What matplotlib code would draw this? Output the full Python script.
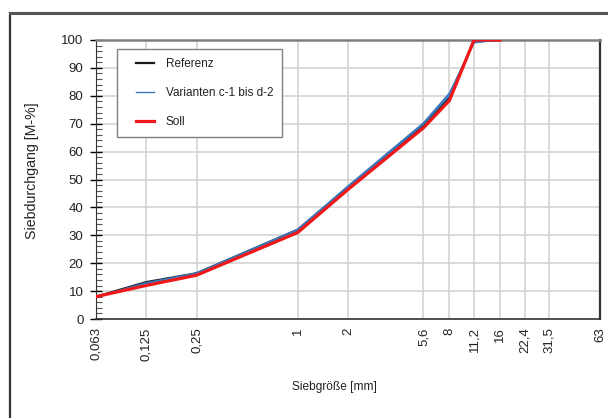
import matplotlib.pyplot as plt
import matplotlib.ticker as mticker
from matplotlib.lines import Line2D
from matplotlib.legend_handler import HandlerLine2D

plt.rcParams['font.family'] = ['Liberation Sans', 'DejaVu Sans']

siebe = [0.063, 0.125, 0.25, 1, 2, 5.6, 8, 11.2, 16, 22.4, 31.5, 63]
sieb_labels = ['0,063', '0,125', '0,25', '1', '2', '5,6', '8', '11,2', '16', '22,4', '31,5', '63']

x_kurve = [0.063, 0.125, 0.25, 1, 2, 5.6, 8, 11.2, 16]
referenz = [8.0, 13.2, 16.4, 32.0, 47.2, 69.5, 79.5, 99.5, 100]
soll = [8.0, 12.0, 15.7, 31.0, 46.5, 68.5, 78.3, 100, 100]
varianten = [
    [7.8, 12.8, 16.3, 31.8, 47.5, 70.0, 80.5, 99.2, 100],
    [8.1, 12.5, 16.0, 31.5, 47.0, 69.8, 80.0, 99.0, 100],
    [7.9, 13.0, 16.5, 32.2, 47.8, 70.3, 81.0, 99.3, 100],
]

fig = plt.figure(figsize=(6.08, 4.18), dpi=100)
ax = fig.add_axes([96 / 608, 1 - 319 / 418, 504 / 608, 279 / 418])

# rahmen oben und links
fig.add_artist(Line2D([9.5 / 608, 9.5 / 608], [0, 1 - 13 / 418], transform=fig.transFigure,
                      color='#333333', lw=1.6))
fig.add_artist(Line2D([9.5 / 608, 1], [1 - 13 / 418, 1 - 13 / 418], transform=fig.transFigure,
                      color='#555555', lw=2.2))

ax.plot(x_kurve, referenz, color='#1a1a1a', lw=1.6, zorder=3)
for v in varianten:
    ax.plot(x_kurve, v, color='#3a78bd', lw=1.0, zorder=3)
ax.plot(x_kurve, soll, color='#f01818', lw=2.3, zorder=4)

ax.set_xscale('log')
ax.set_xlim(0.063, 63)
ax.set_ylim(0, 100)
ax.xaxis.set_major_locator(mticker.FixedLocator(siebe))
ax.xaxis.set_minor_locator(mticker.NullLocator())
ax.set_xticklabels(sieb_labels, rotation=90, fontsize=9.5, color='#222222')
ax.tick_params(axis='x', length=0, pad=6)

ax.yaxis.set_major_locator(mticker.MultipleLocator(10))
ax.yaxis.set_minor_locator(mticker.MultipleLocator(2))
ax.tick_params(axis='y', which='major', direction='inout', length=8, width=1, labelsize=9.5,
               labelcolor='#222222', pad=5)
ax.tick_params(axis='y', which='minor', direction='in', length=4, width=0.8, color='#555555')

ax.grid(True, which='major', color='#d4d4d4', lw=1.2, zorder=0)
ax.set_axisbelow(True)

ax.spines['top'].set_color('#808080')
ax.spines['top'].set_linewidth(1.8)
ax.spines['right'].set_color('#333333')
ax.spines['right'].set_linewidth(1.6)
ax.spines['left'].set_color('#333333')
ax.spines['bottom'].set_color('#333333')
ax.spines['bottom'].set_linewidth(1.2)

ax.set_ylabel('Siebdurchgang [M-%]', fontsize=10.2, color='#222222')
ax.yaxis.set_label_coords(-0.113, 0.53)
ax.set_xlabel('Siebgröße [mm]', fontsize=8.6, color='#222222')
ax.xaxis.set_label_coords(0.474, -0.222)

fs = 8.5
handles = [
    Line2D([], [], color='#1a1a1a', lw=1.6),
    Line2D([], [], color='#3a78bd', lw=1.0),
    Line2D([], [], color='#f01818', lw=2.3),
]
kurz = HandlerLine2D(marker_pad=0.85, numpoints=2)
leg = ax.legend(handles, ['Referenz', 'Varianten c-1 bis d-2', 'Soll'],
                handler_map={h: kurz for h in handles},
                loc='upper left', bbox_to_anchor=(21 / 504, 1 - 9 / 279),
                fontsize=fs, frameon=True, fancybox=False, edgecolor='#808080',
                handlelength=3.2, handletextpad=0.2, labelspacing=1.45,
                borderpad=0.75, borderaxespad=0)
leg.get_frame().set_linewidth(1.0)
leg.get_frame().set_alpha(1)
leg.set_zorder(5)
for t in leg.get_texts():
    t.set_color('#222222')

fig.savefig('out.png', dpi=100)
